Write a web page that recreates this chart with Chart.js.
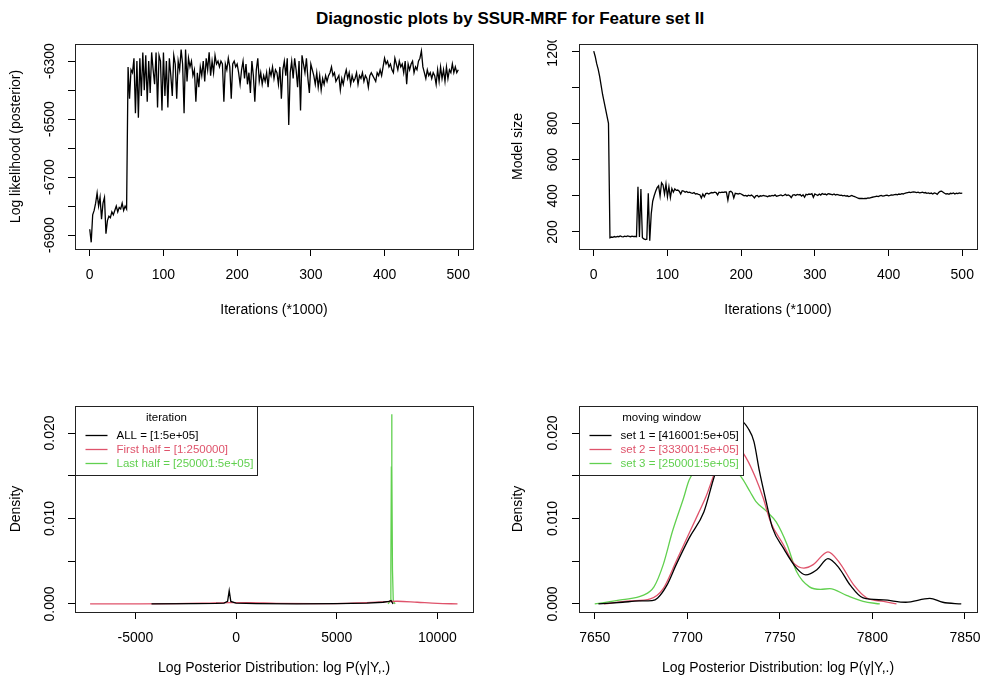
<!DOCTYPE html>
<html>
<head>
<meta charset="utf-8">
<title>Diagnostic plots by SSUR-MRF</title>
<script src="https://cdn.jsdelivr.net/npm/chart.js@4.4.1/dist/chart.umd.min.js"></script>
<style>
  html, body { margin: 0; padding: 0; background: #fff; overflow: hidden; }
  body { width: 982px; height: 679px; position: relative; font-family: "Liberation Sans", Arial, Helvetica, sans-serif; }
  #mainTitle { position: absolute; top: 9px; left: 510px; transform: translateX(-50%); font-weight: bold; font-size: 17px; line-height: 20px; white-space: nowrap; color: #000; }
  canvas { position: absolute; }
</style>
</head>
<body>
<div id="mainTitle">Diagnostic plots by SSUR-MRF for Feature set II</div>
<canvas id="logLikChart" width="491" height="300" style="left:0;top:30px"></canvas>
<canvas id="modelSizeChart" width="491" height="290" style="left:491px;top:40px"></canvas>
<canvas id="densityHalvesChart" width="491" height="289" style="left:0;top:390px"></canvas>
<canvas id="densityWindowChart" width="491" height="289" style="left:491px;top:390px"></canvas>
<script>
const R_BLACK = '#000000';
const R_RED = '#DF536B';
const R_GREEN = '#61D04F';

// ---- trace plots: one value every 2 (*1000) iterations, 0..500 ----
const logLik = [
    -6880, -6925, -6830, -6815, -6790, -6755, -6800, -6770, -6845, -6790,
    -6770, -6895, -6850, -6835, -6840, -6820, -6830, -6815, -6800, -6820,
    -6805, -6810, -6790, -6815, -6800, -6810, -6320, -6430, -6330, -6340,
    -6290, -6480, -6300, -6495, -6290, -6420, -6270, -6400, -6280, -6440,
    -6300, -6410, -6270, -6330, -6380, -6270, -6460, -6280, -6300, -6470,
    -6270, -6420, -6300, -6460, -6290, -6350, -6420, -6280, -6310, -6430,
    -6300, -6330, -6260, -6310, -6480, -6260, -6370, -6290, -6320, -6300,
    -6350, -6330, -6440, -6340, -6390, -6320, -6350, -6300, -6370, -6290,
    -6330, -6270, -6350, -6300, -6340, -6280, -6310, -6300, -6320, -6300,
    -6310, -6440, -6310, -6330, -6290, -6320, -6430, -6310, -6300, -6320,
    -6310, -6340, -6380, -6330, -6300, -6360, -6310, -6380, -6340, -6410,
    -6300, -6350, -6440, -6330, -6290, -6370, -6340, -6380, -6350, -6370,
    -6340, -6390, -6330, -6350, -6320, -6360, -6330, -6340, -6380, -6320,
    -6430, -6330, -6300, -6350, -6290, -6520, -6340, -6300, -6360, -6290,
    -6330, -6390, -6300, -6470, -6280, -6310, -6340, -6290, -6360, -6410,
    -6310, -6330, -6350, -6380, -6340, -6390, -6350, -6400, -6360, -6380,
    -6350, -6370, -6350, -6340, -6320, -6350, -6340, -6370, -6360, -6350,
    -6400, -6360, -6380, -6350, -6330, -6360, -6340, -6380, -6350, -6370,
    -6360, -6340, -6380, -6350, -6360, -6340, -6370, -6350, -6360, -6390,
    -6350, -6340, -6350, -6360, -6370, -6340, -6350, -6330, -6350, -6320,
    -6290, -6310, -6300, -6320, -6310, -6330, -6340, -6290, -6310, -6330,
    -6300, -6320, -6310, -6340, -6300, -6380, -6310, -6330, -6310, -6300,
    -6340, -6320, -6330, -6300, -6290, -6265, -6320, -6340, -6360, -6330,
    -6350, -6340, -6360, -6340, -6350, -6380, -6330, -6370, -6320, -6360,
    -6330, -6370, -6320, -6360, -6330, -6340, -6310, -6340, -6320, -6340,
    -6330
];

const modelSize = [
    1200, 1170, 1130, 1100, 1060, 1010, 960, 920, 880, 840,
    800, 168, 172, 170, 175, 172, 176, 174, 178, 175,
    173, 177, 175, 178, 176, 174, 177, 175, 176, 174,
    450, 172, 437, 168, 162, 158, 160, 414, 152, 300,
    370, 400, 425, 445, 455, 398, 472, 460, 410, 465,
    395, 450, 390, 440, 420, 438, 430, 432, 425, 410,
    428, 426, 420, 424, 418, 420, 416, 414, 418, 410,
    412, 408, 406, 388, 410, 395, 412, 414, 410, 415,
    418, 416, 420, 418, 405, 420, 418, 420, 419, 421,
    420, 376, 422, 425, 418, 388, 414, 412, 410, 413,
    410, 405, 400, 402, 398, 403, 400, 404, 398, 388,
    400, 402, 394, 400, 398, 402, 400, 398, 395, 400,
    398, 402, 400, 405, 398, 400, 402, 405, 400, 403,
    408, 402, 405, 400, 390, 404, 406, 402, 408, 405,
    407, 398, 406, 392, 408, 405, 410, 408, 412, 392,
    410, 406, 402, 410, 404, 412, 408, 410, 405, 412,
    410, 408, 406, 410, 404, 408, 405, 402, 404, 400,
    402, 398, 400, 396, 398, 402, 398, 395, 392, 388,
    385, 386, 385, 384, 386, 385, 388, 387, 390, 392,
    394, 396, 398, 396, 400, 402, 398, 400, 402, 404,
    400, 402, 405, 404, 406, 408, 406, 410, 408, 412,
    410, 414, 416, 418, 420, 418, 420, 422, 420, 418,
    420, 416, 418, 420, 416, 418, 414, 416, 412, 415,
    410, 416, 414, 408, 418, 424, 426, 420, 414, 410,
    412, 408, 414, 412, 416, 410, 414, 412, 416, 414,
    415
];

// iteration grid (*1000) the traces were thinned on
const iterStep = 2;
const iterations = logLik.map((_, i) => i * iterStep);

const iterTicks = [0, 100, 200, 300, 400, 500];
const iterTickLabels = ['0', '100', '200', '300', '400', '500'];
const logLikTicks = [-6900, -6800, -6700, -6600, -6500, -6400, -6300];
const logLikTickLabels = ['-6900', '', '-6700', '', '-6500', '', '-6300'];
const sizeTicks = [200, 400, 600, 800, 1000, 1200];
const sizeTickLabels = ['200', '400', '600', '800', '', '1200'];

// ---- density plots ----
const halvesAllX = [-4200, -2000, -1000, -600, -420, -340, -260, 0, 1000, 3000, 5000, 6500, 7300, 7600, 7700, 7800];
const halvesAllY = [0, 0.00003, 0.00006, 0.0001, 0.0003, 0.00156, 0.0003, 0.0001, 0.00004, 0.00002, 0.00003, 0.0001, 0.0002, 0.0003, 0.0004, 0];
const halvesFirstX = [-7250, -5000, -3000, -1500, -300, 700, 2000, 4000, 5500, 6500, 7500, 8000, 9000, 10000, 11000];
const halvesFirstY = [0, 0.00001, 0.00004, 0.0001, 0.00016, 0.00015, 0.00008, 0.00005, 0.00008, 0.00015, 0.00028, 0.00032, 0.0002, 0.00007, 0.00001];
const halvesLastX = [7550, 7650, 7690, 7715, 7730, 7745, 7770, 7810, 7900];
const halvesLastY = [0, 0.0003, 0.004, 0.016, 0.0222, 0.016, 0.004, 0.0003, 0];

const windowSet1X = [7652, 7665, 7674, 7681, 7684, 7689, 7694, 7701, 7709, 7714, 7720, 7725, 7729, 7733, 7736, 7739, 7743, 7746, 7752, 7759, 7764, 7770, 7776, 7782, 7788, 7795, 7806, 7818, 7831, 7838, 7848];
const windowSet1Y = [0, 0.0002, 0.00035, 0.0004, 0.0007, 0.0022, 0.0046, 0.0077, 0.0108, 0.0145, 0.0185, 0.0208, 0.0214, 0.0205, 0.019, 0.0155, 0.0116, 0.0089, 0.0065, 0.0042, 0.0034, 0.004, 0.0053, 0.0042, 0.0022, 0.0007, 0.00047, 0.0002, 0.00066, 0.0002, 0];
const windowSet2X = [7655, 7669, 7680, 7687, 7694, 7700, 7706, 7710, 7716, 7721, 7726, 7732, 7737, 7741, 7745, 7752, 7757, 7763, 7768, 7776, 7782, 7790, 7797, 7806, 7813];
const windowSet2Y = [0, 0.00035, 0.0006, 0.0018, 0.005, 0.0078, 0.0106, 0.0125, 0.016, 0.0178, 0.0186, 0.017, 0.0147, 0.0124, 0.0096, 0.0069, 0.0049, 0.0042, 0.0046, 0.0061, 0.0049, 0.0022, 0.0007, 0.0003, 0];
const windowSet3X = [7650, 7665, 7676, 7682, 7687, 7692, 7698, 7701, 7706, 7712, 7720, 7726, 7729, 7734, 7737, 7743, 7748, 7754, 7759, 7766, 7772, 7777, 7786, 7795, 7804];
const windowSet3Y = [0, 0.0005, 0.001, 0.002, 0.0046, 0.0085, 0.0124, 0.0145, 0.016, 0.0166, 0.0162, 0.0155, 0.0149, 0.0131, 0.012, 0.0108, 0.0096, 0.0069, 0.0038, 0.002, 0.0017, 0.0018, 0.001, 0.0003, 0];

const densTicks = [0, 0.005, 0.010, 0.015, 0.020];
const densTickLabels = ['0.000', '', '0.010', '', '0.020'];
const halvesTicks = [-5000, 0, 5000, 10000];
const halvesTickLabels = ['-5000', '0', '5000', '10000'];
const windowTicks = [7650, 7700, 7750, 7800, 7850];
const windowTickLabels = ['7650', '7700', '7750', '7800', '7850'];

const halvesLegendTitle = 'iteration';
const halvesLegendLabels = ['ALL = [1:5e+05]', 'First half = [1:250000]', 'Last half = [250001:5e+05]'];
const windowLegendTitle = 'moving window';
const windowLegendLabels = ['set 1 = [416001:5e+05]', 'set 2 = [333001:5e+05]', 'set 3 = [250001:5e+05]'];

Chart.defaults.font.family = '"Liberation Sans", Arial, Helvetica, sans-serif';
Chart.defaults.font.size = 14;
Chart.defaults.color = '#000';

function pairs(xs, ys) {
    return xs.map((x, i) => ({ x: x, y: ys[i] }));
}

function lineSet(label, xs, ys, color, smooth) {
    return {
        label: label,
        data: pairs(xs, ys),
        borderColor: color,
        backgroundColor: color,
        borderWidth: 1.3,
        pointRadius: 0,
        fill: false,
        tension: 0,
        cubicInterpolationMode: smooth ? 'monotone' : 'default'
    };
}

// R style legend box in the top-left corner of the plot region
function drawLegend(ctx, area, lg) {
    const x = Math.round(area.left) + 0.5;
    const y = Math.round(area.top) + 0.5;
    const h = 69;
    ctx.save();
    ctx.fillStyle = '#fff';
    ctx.fillRect(x, y, lg.width, h);
    ctx.strokeStyle = '#222';
    ctx.lineWidth = 1;
    ctx.strokeRect(x, y, lg.width, h);
    ctx.font = '11.5px "Liberation Sans", Arial, sans-serif';
    ctx.textBaseline = 'middle';
    ctx.textAlign = 'center';
    ctx.fillStyle = '#000';
    ctx.fillText(lg.title, x + lg.width / 2, y + 11);
    ctx.textAlign = 'left';
    lg.labels.forEach((label, i) => {
        const ly = Math.round(y + 28 + i * 14) + 0.5;
        ctx.strokeStyle = lg.colors[i];
        ctx.lineWidth = 1.3;
        ctx.beginPath();
        ctx.moveTo(x + 10, ly);
        ctx.lineTo(x + 32, ly);
        ctx.stroke();
        ctx.fillStyle = lg.colors[i];
        ctx.fillText(label, x + 41, ly);
    });
    ctx.restore();
}

// box around the plot region (+ legend on top of the curves)
const boxPlugin = {
    id: 'rBox',
    afterDatasetsDraw(chart, args, opts) {
        const ctx = chart.ctx;
        const a = chart.chartArea;
        if (opts && opts.legend) drawLegend(ctx, a, opts.legend);
        ctx.save();
        ctx.strokeStyle = '#222';
        ctx.lineWidth = 1;
        ctx.strokeRect(Math.round(a.left) + 0.5, Math.round(a.top) + 0.5, Math.round(a.right - a.left), Math.round(a.bottom - a.top));
        ctx.restore();
    }
};

function axisOptions(axis, ax) {
    const isY = axis === 'y';
    return {
        type: 'linear',
        position: isY ? 'left' : 'bottom',
        min: ax.min,
        max: ax.max,
        bounds: 'data',
        afterBuildTicks: scale => { scale.ticks = ax.ticks.map(v => ({ value: v })); },
        afterFit: scale => {
            if (isY) scale.width = ax.size; else scale.height = ax.size;
            scale.paddingLeft = 0; scale.paddingRight = 0;
            scale.paddingTop = 0; scale.paddingBottom = 0;
        },
        grid: { drawOnChartArea: false, drawTicks: true, tickLength: 7, color: '#000', lineWidth: 1 },
        border: { display: false },
        ticks: {
            autoSkip: false,
            padding: ax.labelPad,
            minRotation: isY ? 90 : 0,
            maxRotation: isY ? 90 : 0,
            crossAlign: isY ? 'center' : 'near',
            color: '#000',
            font: { size: 14 },
            callback: (value, index) => ax.labels[index]
        },
        title: {
            display: true,
            text: ax.title,
            color: '#000',
            font: { size: 14 },
            padding: isY ? { top: ax.titlePad, bottom: 0 } : { top: 0, bottom: ax.titlePad }
        }
    };
}

function createPanel(canvasId, cfg) {
    const canvas = document.getElementById(canvasId);
    if (!canvas) {
        console.error('Canvas element not found:', canvasId);
        return null;
    }
    return new Chart(canvas.getContext('2d'), {
        type: 'line',
        data: { datasets: cfg.datasets },
        options: {
            responsive: false,
            animation: false,
            devicePixelRatio: 1,
            layout: { padding: cfg.padding },
            plugins: {
                legend: { display: false },
                tooltip: { enabled: false },
                rBox: { legend: cfg.legend || null }
            },
            scales: {
                x: axisOptions('x', cfg.x),
                y: axisOptions('y', cfg.y)
            }
        },
        plugins: [boxPlugin]
    });
}

createPanel('logLikChart', {
    padding: { left: 0, top: 14, right: 18, bottom: 0 },
    datasets: [lineSet('log likelihood', iterations, logLik, R_BLACK, false)],
    x: { min: -20, max: 520, ticks: iterTicks, labels: iterTickLabels, size: 81, labelPad: 10.6, title: 'Iterations (*1000)', titlePad: 11.6 },
    y: { min: -6948, max: -6241, ticks: logLikTicks, labels: logLikTickLabels, size: 75, labelPad: 0.1, title: 'Log likelihood (posterior)', titlePad: 7.6 }
});

createPanel('modelSizeChart', {
    padding: { left: 0, top: 4, right: 5, bottom: 0 },
    datasets: [lineSet('model size', iterations, modelSize, R_BLACK, false)],
    x: { min: -20, max: 520, ticks: iterTicks, labels: iterTickLabels, size: 81, labelPad: 10.6, title: 'Iterations (*1000)', titlePad: 11.6 },
    y: { min: 106, max: 1239, ticks: sizeTicks, labels: sizeTickLabels, size: 88, labelPad: 3.4, title: 'Model size', titlePad: 18.6 }
});

createPanel('densityHalvesChart', {
    padding: { left: 0, top: 16, right: 18, bottom: 0 },
    datasets: [
        lineSet(halvesLegendLabels[0], halvesAllX, halvesAllY, R_BLACK, false),
        lineSet(halvesLegendLabels[1], halvesFirstX, halvesFirstY, R_RED, true),
        lineSet(halvesLegendLabels[2], halvesLastX, halvesLastY, R_GREEN, false)
    ],
    legend: { title: halvesLegendTitle, labels: halvesLegendLabels, colors: [R_BLACK, R_RED, R_GREEN], width: 182 },
    x: { min: -8000, max: 11770, ticks: halvesTicks, labels: halvesTickLabels, size: 67, labelPad: 10.3, title: 'Log Posterior Distribution: log P(γ|Y,.)', titlePad: 2.6 },
    y: { min: -0.00094, max: 0.02316, ticks: densTicks, labels: densTickLabels, size: 75, labelPad: 0.5, title: 'Density', titlePad: 7.3 }
});

createPanel('densityWindowChart', {
    padding: { left: 0, top: 16, right: 5, bottom: 0 },
    datasets: [
        lineSet(windowLegendLabels[0], windowSet1X, windowSet1Y, R_BLACK, true),
        lineSet(windowLegendLabels[1], windowSet2X, windowSet2Y, R_RED, true),
        lineSet(windowLegendLabels[2], windowSet3X, windowSet3Y, R_GREEN, true)
    ],
    legend: { title: windowLegendTitle, labels: windowLegendLabels, colors: [R_BLACK, R_RED, R_GREEN], width: 164 },
    x: { min: 7641.5, max: 7856.5, ticks: windowTicks, labels: windowTickLabels, size: 67, labelPad: 10.3, title: 'Log Posterior Distribution: log P(γ|Y,.)', titlePad: 2.6 },
    y: { min: -0.00094, max: 0.02316, ticks: densTicks, labels: densTickLabels, size: 88, labelPad: 1.5, title: 'Density', titlePad: 18.9 }
});
</script>
</body>
</html>
